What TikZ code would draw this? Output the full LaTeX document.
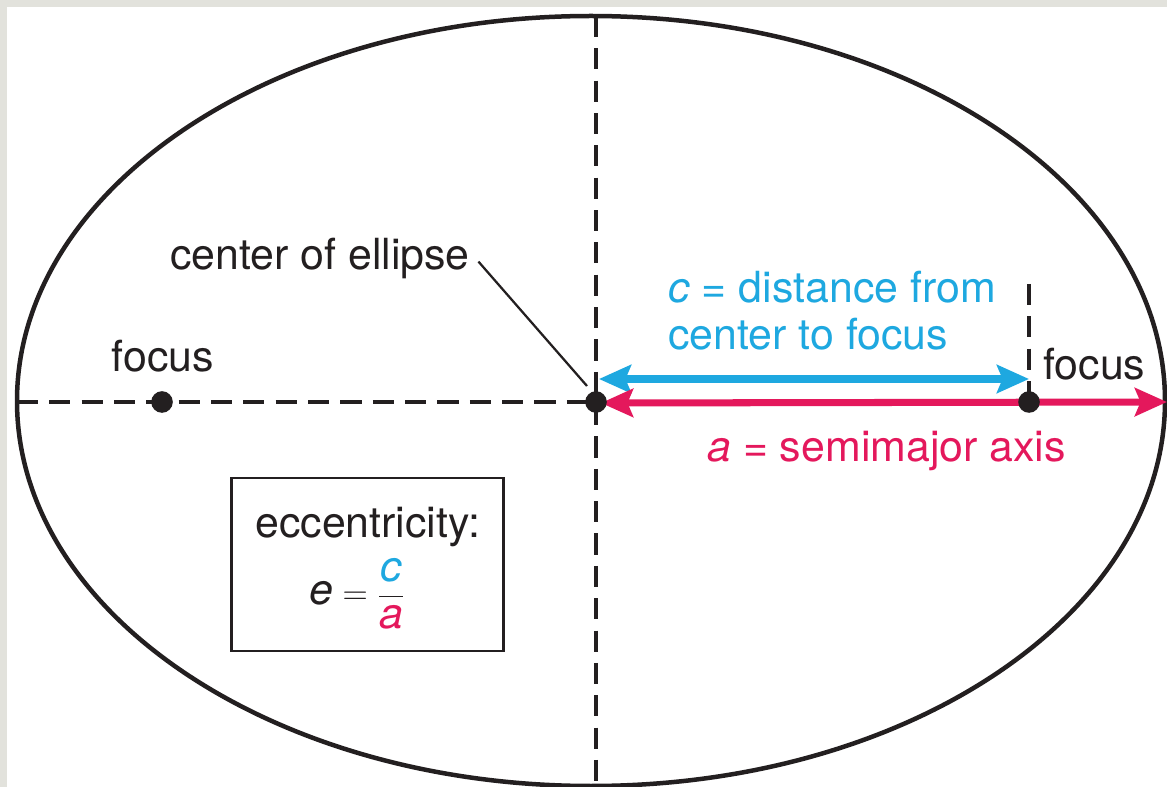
\documentclass[tikz,border=0pt]{standalone}
\usepackage{amsmath, xcolor}
\usepackage{fontspec}
\setmainfont{TeX Gyre Heros}
\usetikzlibrary{arrows.meta}

\definecolor{cblue}{RGB}{30,168,224}
\definecolor{ared}{RGB}{228,24,92}
\definecolor{ink}{RGB}{35,31,32}
\definecolor{paper}{RGB}{226,226,220}

\begin{document}
\begin{tikzpicture}[x=0.025cm, y=-0.025cm,
    lbl/.style={inner sep=0pt, text=ink, font=\fontsize{30.5}{37}\selectfont},
    axis/.style={ink, line width=2.2pt, dash pattern=on 15pt off 8pt},
    dot/.style={circle, fill=ink, inner sep=0pt, minimum size=0.54cm},
    dim/.style={line width=5pt, {Stealth[length=0.8cm, width=0.7cm, inset=0.14cm]}-{Stealth[length=0.8cm, width=0.7cm, inset=0.14cm]}}]
    \clip (0,0) rectangle (1167,787);
    \fill[paper] (0,0) rectangle (1167,787);
    \fill[white] (7,7) rectangle (1167,787);
    \draw[ink, line width=3.2pt] (591,401) ellipse [x radius=574, y radius=385];

    \coordinate (ctr) at (596,402);
    \coordinate (fl) at (162,402);
    \coordinate (fr) at (1029,402);
    \coordinate (top) at (596,16);
    \coordinate (bot) at (596,787);
    \coordinate (lft) at (17,402);
    \coordinate (tick) at (1029,284);
    \coordinate (rim) at (1167,402);
    \coordinate (b1) at (599,379);
    \coordinate (b2) at (1029,379);
    \coordinate (r1) at (601,403);

    \draw[axis] (top) -- (bot);
    \draw[axis] (lft) -- (ctr);
    \draw[axis] (tick) -- (fr);

    \draw[dim, cblue] (b1) -- (b2);
    \draw[dim, ared] (r1) -- (rim);

    \node[dot] (ctrdot) at (ctr) {};
    \node[dot] (fldot) at (fl) {};
    \node[dot] (frdot) at (fr) {};

    \node[lbl, anchor=base east] (cname) at (470,270) {center of ellipse};
    \coordinate (lead) at (587,386);
    \draw[ink, line width=1.6pt] ([xshift=6pt, yshift=6pt]cname.base east) -- (lead);

    \node[lbl, anchor=base] (fllbl) at (163,372) {focus};
    \node[lbl, anchor=base west] (frlbl) at (1043,380) {focus};

    \node[lbl, text=cblue, anchor=base west] (c1) at (668,303) {\textit{c} = distance from};
    \node[lbl, text=cblue, anchor=base west] (c2) at (668,350) {center to focus};
    \node[lbl, text=ared, anchor=base west] (a1) at (707,462) {\textit{a} = semimajor axis};

    \node[draw=ink, line width=1.8pt, minimum width=6.8cm, minimum height=4.33cm] (eccbox) at (367.5,564.5) {};
    \node[lbl, anchor=base] (ecc) at (368,538) {eccentricity:};
    \node[lbl, anchor=base] (frac) at (357,605) {$\mbox{\itshape e} = \dfrac{\textcolor{cblue}{\mbox{\itshape c}}}{\textcolor{ared}{\mbox{\itshape a}}}$};
\end{tikzpicture}
\end{document}
